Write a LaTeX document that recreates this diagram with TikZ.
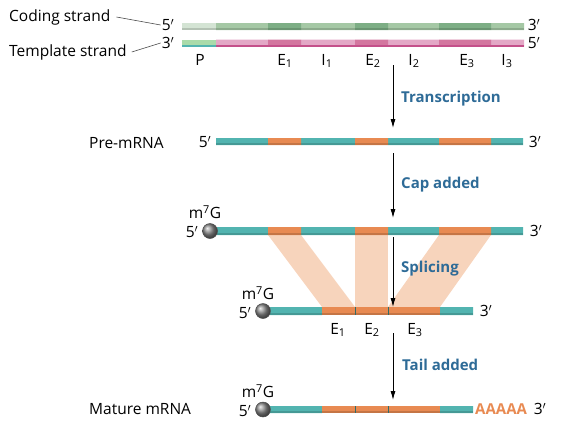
\documentclass[tikz,border=0pt]{standalone}
\usepackage{fontspec}
\setmainfont{Open Sans}
\usetikzlibrary{arrows.meta}

\definecolor{codlight}{HTML}{D4E4D4}
\definecolor{codmid}{HTML}{A5C8A5}
\definecolor{codex}{HTML}{7DAE85}
\definecolor{tmpP}{HTML}{AADBAA}
\definecolor{tmpmid}{HTML}{E3A8C6}
\definecolor{tmpex}{HTML}{D3769F}
\definecolor{tmpdark}{HTML}{C4508A}
\definecolor{rnateal}{HTML}{52B4B0}
\definecolor{rnaorange}{HTML}{E88A52}
\definecolor{peach}{HTML}{F7D4BC}
\definecolor{lblue}{HTML}{2E6B97}

\begin{document}
\begin{tikzpicture}[x=1pt,y=-1pt,font=\fontsize{15.5}{17}\selectfont]
        % Setup the styles
        \tikzset{lbl/.style={inner sep=0pt},
                 seg label/.style={inner sep=0pt, anchor=base},
                 step label/.style={font=\fontsize{15}{17}\selectfont\bfseries,
                                    text=lblue, anchor=base west, inner sep=0pt},
                 flow/.style={line width=0.8pt, -{Latex[length=9pt,width=5pt]}},
                 edge shade/.style={black, opacity=.15},
                 cap ball/.style={circle, minimum size=15pt, inner sep=0pt,
                                  ball color=gray!90, draw=black!70, line width=0.5pt},
                 leader/.style={draw=black!70, line width=0.6pt},
                 splice sep/.style={draw=rnateal!60!black, line width=0.8pt}}
        \useasboundingbox (0,0) rectangle (578,434);

        % Draw the DNA strands
        \fill[codlight] (182,23) rectangle (216,30);
        \fill[codmid] (216,23) rectangle (268,30) (301,23) rectangle (355,30)
                      (388,23) rectangle (439,30) (491,23) rectangle (524,30);
        \fill[codex] (268,23) rectangle (301,30) (355,23) rectangle (388,30)
                     (439,23) rectangle (491,30);
        \fill[edge shade] (182,28) rectangle (524,30);
        \fill[tmpP] (182,39.5) rectangle (216,46.5);
        \fill[tmpmid] (216,39.5) rectangle (268,46.5) (301,39.5) rectangle (355,46.5)
                      (388,39.5) rectangle (439,46.5) (491,39.5) rectangle (524,46.5);
        \fill[tmpex] (268,39.5) rectangle (301,46.5) (355,39.5) rectangle (388,46.5)
                     (439,39.5) rectangle (491,46.5);
        \fill[rnateal] (182,44.5) rectangle (216,46.5);
        \fill[tmpdark] (216,44.5) rectangle (524,46.5);

        \node[lbl, anchor=west] (coding) at (9,17) {Coding strand};
        \node[lbl, anchor=west] (template) at (9,52) {Template strand};
        \node[lbl] (cod5) at (168,25) {5$'$};
        \node[lbl] (cod3) at (534,25) {3$'$};
        \node[lbl] (tmp3) at (168,43) {3$'$};
        \node[lbl] (tmp5) at (534,43) {5$'$};
        \draw[leader] ([xshift=6pt]coding.east) -- ([xshift=-1pt]cod5.west);
        \draw[leader] ([xshift=5pt]template.east) -- ([xshift=-1pt]tmp3.west);

        \node[seg label] (prom) at (200,65) {P};
        \node[seg label] (ex1) at (285,65) {E\textsubscript{1}};
        \node[seg label] (in1) at (327,65) {I\textsubscript{1}};
        \node[seg label] (ex2) at (373,65) {E\textsubscript{2}};
        \node[seg label] (in2) at (414,65) {I\textsubscript{2}};
        \node[seg label] (ex3) at (467,65) {E\textsubscript{3}};
        \node[seg label] (in3) at (507,65) {I\textsubscript{3}};

        % Pre-mRNA
        \fill[rnateal] (216,138) rectangle (268,145) (301,138) rectangle (355,145)
                       (388,138) rectangle (439,145) (491,138) rectangle (523,145);
        \fill[rnaorange] (268,138) rectangle (301,145) (355,138) rectangle (388,145)
                         (439,138) rectangle (491,145);
        \fill[edge shade] (216,143) rectangle (523,145);
        \node[lbl, anchor=west] (pre) at (89,143) {Pre-mRNA};
        \node[lbl] (pre5) at (205,142) {5$'$};
        \node[lbl] (pre3) at (535,142) {3$'$};

        % Splicing bands
        \fill[peach] (268,235) -- (301,235) -- (355,307) -- (322,307) -- cycle;
        \fill[peach] (355,235) -- (388,235) -- (388,307) -- (355,307) -- cycle;
        \fill[peach] (439,235) -- (491,235) -- (440,307) -- (388,307) -- cycle;

        % Capped pre-mRNA
        \fill[rnateal] (217,227) rectangle (268,235) (301,227) rectangle (355,235)
                       (388,227) rectangle (439,235) (491,227) rectangle (523,235);
        \fill[rnaorange] (268,227) rectangle (301,235) (355,227) rectangle (388,235)
                         (439,227) rectangle (491,235);
        \fill[edge shade] (217,233) rectangle (523,235);
        \node[cap ball] (ball1) at (210,231) {};
        \node[lbl] (cap5) at (192,232) {5$'$};
        \node[lbl] (cap1) at (205,212) {m\textsuperscript{7}G};
        \node[lbl] (cap3) at (536,231) {3$'$};

        % Spliced mRNA
        \fill[rnateal] (270,307) rectangle (322,315) (440,307) rectangle (473,315);
        \fill[rnaorange] (322,307) rectangle (440,315);
        \fill[edge shade] (270,313) rectangle (473,315);
        \draw[splice sep] (355,307) -- (355,315) (388,307) -- (388,315);
        \node[cap ball] (ball2) at (263,311) {};
        \node[lbl] (spl5) at (245,313) {5$'$};
        \node[lbl] (cap2) at (258,293) {m\textsuperscript{7}G};
        \node[lbl] (spl3) at (486,311) {3$'$};
        \node[seg label] (sex1) at (338,334) {E\textsubscript{1}};
        \node[seg label] (sex2) at (372,334) {E\textsubscript{2}};
        \node[seg label] (sex3) at (415,334) {E\textsubscript{3}};

        % Mature mRNA
        \fill[rnateal] (270,406) rectangle (322,413) (440,406) rectangle (473,413);
        \fill[rnaorange] (322,406) rectangle (440,413);
        \fill[edge shade] (270,411) rectangle (473,413);
        \draw[splice sep] (355,406) -- (355,413) (388,406) -- (388,413);
        \node[cap ball] (ball3) at (263,409.5) {};
        \node[lbl] (mat5) at (245,411) {5$'$};
        \node[lbl] (cap3b) at (258,391) {m\textsuperscript{7}G};
        \node[lbl, font=\fontsize{15}{17}\selectfont\bfseries, text=rnaorange,
              anchor=west] (tail) at (475,409) {AAAAA};
        \node[lbl] (mat3) at (540,409) {3$'$};
        \node[lbl, anchor=west] (mature) at (89,409) {Mature mRNA};

        % Steps
        \coordinate (s1a) at (393,65);  \coordinate (s1b) at (393,128);
        \coordinate (s2a) at (393,153); \coordinate (s2b) at (393,218);
        \coordinate (s3a) at (393,237); \coordinate (s3b) at (393,307);
        \coordinate (s4a) at (393,333); \coordinate (s4b) at (393,400);
        \draw[flow] (s1a) -- (s1b);
        \draw[flow] (s2a) -- (s2b);
        \draw[flow] (s3a) -- (s3b);
        \draw[flow] (s4a) -- (s4b);
        \node[step label] (transcr) at (401,102) {Transcription};
        \node[step label] (capadd) at (401,188) {Cap added};
        \node[step label] (splice) at (401,272) {Splicing};
        \node[step label] (tailadd) at (402,370) {Tail added};
\end{tikzpicture}
\end{document}
